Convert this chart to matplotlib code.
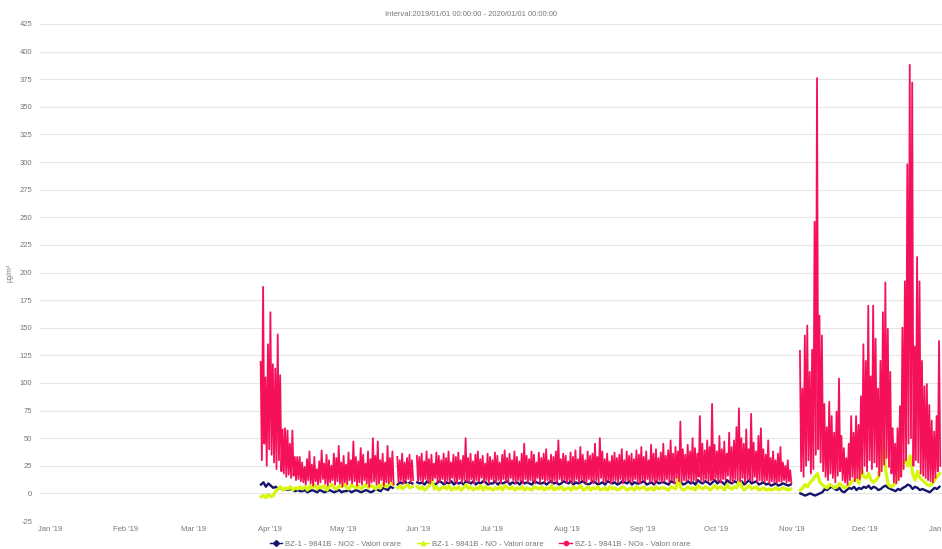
import numpy as np
import matplotlib
matplotlib.use('Agg')
import matplotlib.pyplot as plt
import matplotlib.dates as mdates
from matplotlib.lines import Line2D

plt.rcParams['font.family'] = ['Liberation Sans', 'DejaVu Sans']
plt.rcParams['axes.unicode_minus'] = False

# daily values, 2019-03-28 .. 2019-12-31 (None = no data)
first_day = '2019-03-28'
last_day = '2020-01-01'

# NOx: daily maximum and minimum (hourly values)
nox_high = [
    119, 187, 105, 135, 164, 117, 113, 144, 107, 58, 59, 57, 45, 57, 33, 33, 33,
    28, 24, 31, 38, 26, 33, 22, 29, 39, 27, 35, 30, 25, 36, 32, 43, 28, 34, 26, 37,
    30, 47, 33, 29, 41, 35, 27, 38, 31, 50, 34, 47, 30, 36, 28, 43, 32, 38,
    None, 33, 30, 36, 28, 32, 35, 30, None, 34,
    33, 36, 29, 38, 31, 35, 27, 37, 34, 30,
    36, 32, 38, 28, 35, 33, 37, 30, 34, 50,
    32, 36, 29, 35, 38, 31, 34, 27, 36, 33,
    30, 37, 34, 28, 35, 39, 32, 36, 30, 38,
    33, 29, 36, 45, 34, 31, 38, 35, 28, 37,
    32, 36, 40, 30, 35, 33, 38, 48, 31, 36,
    34, 29, 37, 33, 39, 31, 42, 35, 30, 38,
    34, 36, 45, 33, 50, 38, 31, 36, 29, 34,
    37, 32, 35, 40, 30, 38, 34, 36, 31, 39,
    35, 42, 33, 38, 30, 44, 36, 40, 32, 37,
    45, 34, 39, 48, 36, 42, 38, 65, 40, 35,
    44, 38, 50, 41, 36, 70, 45, 39, 48, 42,
    81, 44, 38, 52, 40, 47, 36, 55, 42, 48,
    60, 77, 50, 45, 58, 40, 72, 46, 38, 52,
    59, 40, 35, 48, 32, 38, 30, 36, 42, 28,
    25, 30, 21,
    None, None, None,
    129, 95, 143, 152, 110, 130, 246, 376, 161, 143,
    81, 60, 83, 70, 55, 74, 104, 52, 41, 32,
    45, 70, 55, 70, 62, 88, 135, 120, 170, 106,
    170, 140, 95, 120, 164, 191, 149, 110, 59, 45,
    59, 79, 150, 192, 298, 388, 372, 133, 214, 192,
    120, 97, 99, 80, 66, 56, 70, 138,
]
nox_low = [
    30, 45, 25, 40, 35, 28, 22, 30, 20, 18, 15, 17, 14, 16, 12, 13, 11,
    10, 8, 12, 9, 7, 11, 8, 10, 13, 9, 7, 10, 12, 8, 11, 9, 6, 10, 8, 12,
    9, 11, 7, 10, 8, 12, 9, 6, 10, 11, 8, 9, 12, 7, 10, 9, 11, 8,
    None, 10, 12, 9, 11, 13, 10, 12, None, 11,
    12, 10, 13, 11, 9, 12, 14, 10, 11, 13,
    9, 12, 10, 14, 11, 9, 13, 10, 12, 11,
    10, 13, 9, 12, 11, 14, 10, 12, 9, 13,
    11, 10, 12, 9, 13, 11, 10, 14, 12, 9,
    12, 11, 9, 13, 10, 12, 11, 9, 14, 10,
    13, 10, 12, 11, 9, 12, 10, 13, 11, 12,
    10, 12, 9, 11, 13, 10, 12, 11, 9, 13,
    11, 9, 12, 10, 14, 11, 10, 12, 9, 11,
    12, 10, 13, 9, 11, 12, 10, 11, 13, 10,
    9, 12, 11, 13, 10, 12, 9, 11, 12, 10,
    11, 13, 10, 12, 9, 14, 11, 10, 12, 11,
    13, 10, 12, 11, 15, 12, 10, 13, 11, 12,
    12, 14, 11, 10, 13, 12, 16, 11, 10, 13,
    12, 11, 14, 10, 13, 12, 11, 15, 10, 12,
    11, 10, 12, 9, 11, 10, 9, 11, 10, 12,
    10, 11, 9,
    None, None, None,
    20, 15, 25, 30, 18, 22, 35, 40, 28, 20,
    15, 12, 18, 14, 10, 16, 20, 12, 10, 8,
    12, 15, 11, 14, 13, 18, 25, 20, 30, 22,
    28, 24, 16, 20, 26, 32, 24, 18, 10, 9,
    12, 15, 22, 30, 45, 50, 25, 30, 28, 18,
    16, 14, 12, 11, 10, 14, 20, 25,
]
no2 = [
    8, 10, 6, 9, 7, 5, 6, 4, 5, 3, 4, 3, 4, 3, 2, 3, 2,
    2, 3, 1, 2, 3, 2, 1, 3, 2, 1, 2, 3, 2, 1, 2, 3, 1, 2, 2, 3,
    1, 2, 3, 2, 1, 2, 3, 2, 1, 2, 4, 3, 2, 5, 4, 3, 6, 5,
    None, 8, 10, 9, 11, 8, 10, 9, None, 10,
    9, 10, 8, 11, 9, 10, 8, 9, 11, 10,
    8, 10, 9, 11, 8, 10, 9, 10, 8, 11,
    10, 9, 11, 8, 10, 9, 11, 10, 8, 9,
    9, 11, 8, 10, 9, 10, 11, 8, 10, 9,
    10, 8, 11, 9, 10, 9, 8, 11, 10, 9,
    9, 10, 8, 10, 11, 9, 10, 8, 9, 11,
    10, 9, 11, 8, 10, 9, 10, 11, 9, 8,
    9, 11, 10, 8, 9, 10, 8, 11, 10, 9,
    10, 8, 9, 11, 10, 9, 11, 8, 10, 9,
    9, 10, 11, 8, 9, 10, 8, 11, 9, 10,
    10, 9, 8, 11, 10, 9, 11, 10, 8, 9,
    11, 9, 10, 8, 12, 10, 9, 11, 10, 8,
    10, 12, 9, 11, 10, 8, 12, 10, 9, 11,
    10, 9, 11, 8, 10, 12, 9, 10, 11, 8,
    9, 10, 8, 9, 7, 8, 9, 7, 8, 9,
    8, 7, 8,
    None, None, None,
    0, -1, -2, -1, 0, -1, -2, -1, 0, 1,
    4, 3, 5, 6, 4, 3, 5, 2, 1, 3,
    5, 4, 6, 3, 5, 4, 6, 5, 7, 4,
    6, 5, 3, 4, 6, 7, 5, 4, 3, 2,
    4, 3, 5, 6, 8, 7, 4, 6, 5, 3,
    4, 3, 2, 1, 3, 5, 4, 6,
]
no = [
    -3, -2, -4, -1, -3, -2, 2, 4, 6, 3, 5, 4, 6, 3, 5, 4, 6,
    4, 6, 3, 7, 5, 8, 4, 6, 5, 7, 3, 6, 8, 5, 4, 7, 6, 9, 5, 4,
    8, 6, 5, 7, 4, 6, 8, 5, 7, 6, 4, 8, 5, 9, 6, 7, 10, 8,
    None, 5, 7, 4, 6, 8, 5, 6, None, 6,
    4, 6, 3, 5, 7, 13, 4, 6, 3, 5,
    6, 4, 7, 3, 5, 4, 6, 3, 5, 8,
    4, 6, 3, 5, 4, 7, 3, 6, 4, 5,
    3, 5, 4, 6, 3, 7, 5, 4, 6, 3,
    5, 4, 6, 3, 5, 4, 3, 6, 5, 4,
    6, 3, 5, 4, 7, 3, 5, 4, 6, 3,
    4, 5, 3, 6, 4, 5, 7, 3, 4, 6,
    3, 5, 4, 6, 3, 4, 5, 3, 6, 4,
    5, 3, 4, 6, 5, 3, 4, 5, 3, 6,
    4, 5, 6, 3, 4, 5, 3, 6, 4, 5,
    5, 4, 3, 6, 5, 4, 14, 5, 3, 4,
    6, 4, 5, 3, 7, 5, 4, 6, 5, 3,
    5, 7, 4, 6, 5, 3, 8, 5, 4, 6,
    5, 12, 6, 3, 5, 7, 4, 5, 6, 3,
    4, 5, 3, 4, 3, 4, 5, 3, 4, 5,
    4, 3, 4,
    None, None, None,
    3, 5, 8, 6, 10, 12, 15, 18, 10, 8,
    6, 5, 8, 7, 5, 6, 9, 7, 5, 6,
    8, 10, 12, 14, 9, 23, 15, 14, 18, 12,
    10, 12, 15, 30, 52, 20, 8, 6, 7, 10,
    14, 20, 28, 30, 25, 34, 18, 12, 20, 14,
    12, 10, 8, 7, 9, 12, 15, 18,
]

series_names = ['BZ-1 - 9841B - NO2 - Valori orare',
                'BZ-1 - 9841B - NO - Valori orare',
                'BZ-1 - 9841B - NOx - Valori orare']
colors = ['#14146b', '#d8f50c', '#f5105a']
markers = ['D', '^', 'o']
title = 'Interval:2019/01/01 00:00:00 - 2020/01/01 00:00:00'
y_ticks = list(range(-25, 426, 25))


def to_float(values):
    return np.array([np.nan if v is None else v for v in values], dtype=float)


days = np.arange(np.datetime64(first_day), np.datetime64(last_day), np.timedelta64(1, 'D'))
days = days.astype('datetime64[h]')

# NOx: morning peak / evening low for each day
t_nox = np.empty(2 * len(days), dtype='datetime64[h]')
t_nox[0::2] = days + np.timedelta64(8, 'h')
t_nox[1::2] = days + np.timedelta64(20, 'h')
y_nox = np.empty(2 * len(days))
y_nox[0::2] = to_float(nox_high)
y_nox[1::2] = to_float(nox_low)
t_day = days + np.timedelta64(12, 'h')

W, H = 942, 549
fig = plt.figure(figsize=(W / 100, H / 100), dpi=100)
px_day = 2.44
x0_day = -10 / px_day
x1_day = (943 - 50) / px_day
ax = fig.add_axes([40 / W, 28 / H, 903 / W, 497 / H])

ax.plot(t_day, to_float(no2), color=colors[0], lw=1.7, zorder=2)
ax.plot(t_day, to_float(no), color=colors[1], lw=2.3, zorder=3)
ax.plot(t_nox, y_nox, color=colors[2], lw=1.3, zorder=4)

start = np.datetime64('2019-01-01T00', 'h')
ax.set_xlim(start + np.timedelta64(int(x0_day * 24), 'h'),
            start + np.timedelta64(int(x1_day * 24), 'h'))
ax.set_ylim(-25, 425)
ax.set_yticks(y_ticks)
ax.xaxis.set_major_locator(mdates.MonthLocator())
ax.xaxis.set_major_formatter(mdates.DateFormatter("%b '%y"))
ax.grid(axis='y', color='#e6e6e6', lw=0.8)
ax.set_axisbelow(True)
for s in ax.spines.values():
    s.set_visible(False)
ax.tick_params(axis='y', length=0, pad=5.5, labelsize=5.5, labelcolor='#777777')
ax.tick_params(axis='x', length=0, pad=3.5, labelsize=5.5, labelcolor='#777777')

fig.text(10 / W, 1 - 273 / H, 'µg/m³', rotation=90, fontsize=5, color='#777777',
         ha='center', va='center')
fig.text(0.5, 1 - 15 / H, title, fontsize=5.5, color='#777777', ha='center', va='center')

handles = [Line2D([], [], color=c, marker=m, markersize=3, lw=1) for c, m in zip(colors, markers)]
fig.legend(handles, series_names, loc='center', bbox_to_anchor=(480 / W, 5 / H), ncol=3,
           frameon=False, fontsize=5.6, labelcolor='#777777', handlelength=1.6,
           handletextpad=0.4, columnspacing=2.0, borderpad=0)

fig.savefig('out.png', dpi=100)
